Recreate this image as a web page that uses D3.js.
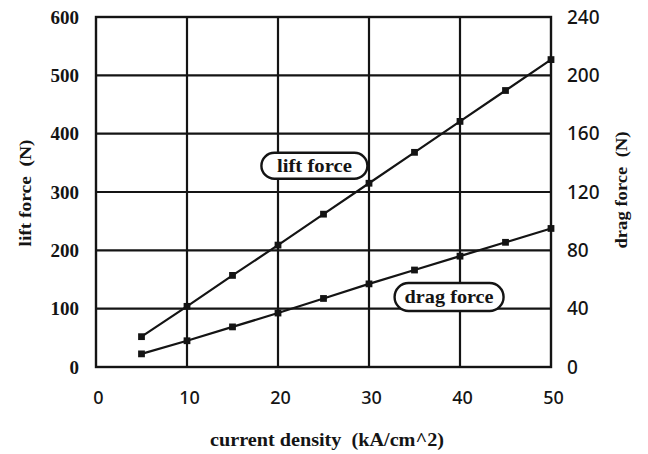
<!DOCTYPE html>
<html>
<head>
<meta charset="utf-8">
<script src="https://cdn.jsdelivr.net/npm/d3@7"></script>
<style>
  html, body { margin: 0; padding: 0; background: #fff; }
  svg { display: block; }
</style>
</head>
<body>
<svg id="chart" width="648" height="454"></svg>
<script>
// Current density steps (kA/cm^2)
const currentDensity = [5, 10, 15, 20, 25, 30, 35, 40, 45, 50];
// Lift force (N), left axis
const liftForce = [52, 104, 157, 209, 262, 315, 368, 421, 474, 527];
// Drag force (N), right axis
const dragForce = [9, 18, 27.5, 37, 47, 57, 66.5, 76, 85.5, 95];

const xTicks = [0, 10, 20, 30, 40, 50];
const leftTicks = [0, 100, 200, 300, 400, 500, 600];
const rightTicks = [0, 40, 80, 120, 160, 200, 240];

const seriesNames = ["lift force", "drag force"];
const xTitle = "current density\u00a0\u00a0(kA/cm^2)";
const leftTitle = "lift force\u00a0\u00a0(N)";
const rightTitle = "drag force\u00a0\u00a0(N)";

const ink = "#141414";
const serif = "'Liberation Serif', 'Times New Roman', serif";
const sans = "'Noto Sans', 'Open Sans', sans-serif";

const svg = d3.select("#chart");
const plot = { left: 96, right: 551, top: 17, bottom: 367 };

const x = d3.scaleLinear().domain([0, 50]).range([plot.left, plot.right]);
const yL = d3.scaleLinear().domain([0, 600]).range([plot.bottom, plot.top]);
const yR = d3.scaleLinear().domain([0, 240]).range([plot.bottom, plot.top]);

// Grid lines
const grid = svg.append("g").attr("stroke", ink).attr("stroke-width", 2.2);
grid.selectAll("line.v").data(xTicks.slice(1, -1)).join("line")
  .attr("x1", d => x(d)).attr("x2", d => x(d))
  .attr("y1", plot.top).attr("y2", plot.bottom);
grid.selectAll("line.h").data(leftTicks.slice(1, -1)).join("line")
  .attr("y1", d => yL(d)).attr("y2", d => yL(d))
  .attr("x1", plot.left).attr("x2", plot.right);

// Frame
svg.append("rect")
  .attr("x", plot.left).attr("y", plot.top)
  .attr("width", plot.right - plot.left).attr("height", plot.bottom - plot.top)
  .attr("fill", "none").attr("stroke", ink).attr("stroke-width", 2.4);

// Axes (labels only, the frame supplies the lines)
const axisB = d3.axisBottom(x).tickValues(xTicks).tickSize(0).tickPadding(24);
const axisL = d3.axisLeft(yL).tickValues(leftTicks).tickSize(0).tickPadding(17);
const axisR = d3.axisRight(yR).tickValues(rightTicks).tickSize(0).tickPadding(16);

function styleAxis(g, family, size, weight) {
  g.select(".domain").remove();
  g.selectAll("text")
    .attr("fill", ink)
    .style("font-family", family)
    .style("font-size", size + "px")
    .style("font-weight", weight);
}

svg.append("g").attr("transform", `translate(0,${plot.bottom})`).call(axisB)
  .call(g => styleAxis(g, sans, 18, 500))
  .call(g => g.selectAll("text").attr("dx", "2"));
svg.append("g").attr("transform", `translate(${plot.left},0)`).call(axisL)
  .call(g => styleAxis(g, serif, 19, 700));
svg.append("g").attr("transform", `translate(${plot.right},0)`).call(axisR)
  .call(g => styleAxis(g, sans, 19, 500));

// Axis titles
svg.append("text")
  .attr("x", 327).attr("y", 446)
  .attr("text-anchor", "middle")
  .attr("textLength", 234).attr("lengthAdjust", "spacingAndGlyphs")
  .style("font-family", serif).style("font-size", "18px").style("font-weight", 700)
  .attr("fill", ink).text(xTitle);

svg.append("text")
  .attr("transform", `translate(31,193) rotate(-90)`)
  .attr("text-anchor", "middle")
  .attr("textLength", 107).attr("lengthAdjust", "spacingAndGlyphs")
  .style("font-family", serif).style("font-size", "17px").style("font-weight", 700)
  .attr("fill", ink).text(leftTitle);

svg.append("text")
  .attr("transform", `translate(627,190) rotate(-90)`)
  .attr("text-anchor", "middle")
  .attr("textLength", 117).attr("lengthAdjust", "spacingAndGlyphs")
  .style("font-family", serif).style("font-size", "17px").style("font-weight", 700)
  .attr("fill", ink).text(rightTitle);

// Series
const series = [
  { name: seriesNames[0], values: liftForce, y: yL },
  { name: seriesNames[1], values: dragForce, y: yR }
];

series.forEach(s => {
  const pts = currentDensity.map((c, i) => [c, s.values[i]]);
  svg.append("path")
    .datum(pts)
    .attr("fill", "none").attr("stroke", ink).attr("stroke-width", 2.2)
    .attr("d", d3.line().x(d => x(d[0])).y(d => s.y(d[1])));
  svg.append("g").selectAll("path").data(pts).join("path")
    .attr("transform", d => `translate(${x(d[0])},${s.y(d[1])})`)
    .attr("d", d3.symbol(d3.symbolSquare, 46))
    .attr("fill", ink);
});

// Series name call-outs
const callouts = [
  { name: seriesNames[0], cx: 24, cy: 345, scale: yL, w: 106, h: 26, tw: 75 },
  { name: seriesNames[1], cx: 38.8, cy: 48, scale: yR, w: 109, h: 28, tw: 89 }
];
callouts.forEach(c => {
  const px = x(c.cx), py = c.scale(c.cy);
  const g = svg.append("g").attr("transform", `translate(${px},${py})`);
  g.append("rect")
    .attr("x", -c.w / 2).attr("y", -c.h / 2)
    .attr("width", c.w).attr("height", c.h)
    .attr("rx", c.h / 2).attr("ry", c.h / 2)
    .attr("fill", "#fff").attr("stroke", ink).attr("stroke-width", 2.4);
  g.append("text")
    .attr("text-anchor", "middle").attr("dy", "0.33em")
    .attr("textLength", c.tw).attr("lengthAdjust", "spacingAndGlyphs")
    .style("font-family", serif).style("font-size", "19px").style("font-weight", 700)
    .attr("fill", ink).text(c.name);
});
</script>
</body>
</html>
